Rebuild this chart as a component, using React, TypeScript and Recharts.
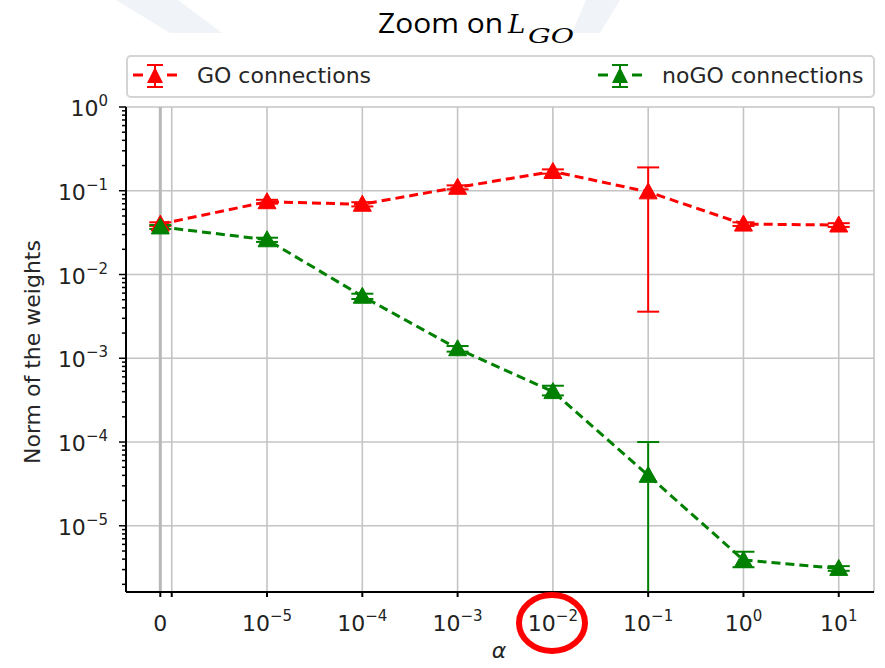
import React from 'react';
import { LineChart, Line, XAxis, YAxis, CartesianGrid, ErrorBar } from 'recharts';

// alpha values on the x axis (0 sits in the linear part of a symlog-like axis)
const alphas = [0, 1e-5, 1e-4, 1e-3, 1e-2, 1e-1, 1, 10];

const goMean = [0.04, 0.074, 0.069, 0.11, 0.17, 0.097, 0.04, 0.039];
const goErrLow = [0.002, 0.004, 0.004, 0.006, 0.01, 0.0934, 0.002, 0.002];
const goErrHigh = [0.002, 0.004, 0.004, 0.006, 0.01, 0.093, 0.002, 0.002];

const nogoMean = [0.037, 0.026, 0.0055, 0.0013, 0.0004, 0.00004, 0.0000039, 0.0000031];
// lower error at 1e-1 runs off the bottom of the axis
const nogoErrLow = [0.002, 0.0015, 0.0004, 0.0001, 0.00004, 0.00003838, 0.0000007, 0.0000002];
const nogoErrHigh = [0.002, 0.0015, 0.0004, 0.0001, 0.00007, 0.00006, 0.000001, 0.0000002];

const ZERO_POS = -6.12;
const X_DOMAIN: [number, number] = [-6.48, 1.37];
const Y_DOMAIN: [number, number] = [1.62e-6, 1];

const xTicks = [ZERO_POS, -6, -5, -4, -3, -2, -1, 0, 1];
const yMajor = [1, 1e-1, 1e-2, 1e-3, 1e-4, 1e-5];
const yMinor: number[] = [];
[-6, -5, -4, -3, -2, -1].forEach((d) => {
  for (let m = 2; m <= 9; m++) {
    const v = m * Math.pow(10, d);
    if (v >= Y_DOMAIN[0]) yMinor.push(v);
  }
});
const yTicks = [...yMajor, ...yMinor].sort((a, b) => a - b);

const data = alphas.map((a, i) => ({
  x: a === 0 ? ZERO_POS : Math.log10(a),
  go: goMean[i],
  goErr: [goErrLow[i], goErrHigh[i]],
  nogo: nogoMean[i],
  nogoErr: [nogoErrLow[i], nogoErrHigh[i]],
}));

const RED = '#ff0000';
const GREEN = '#008000';
const TICK_FONT = '"DejaVu Sans", sans-serif';

const sup = (e: number) => (e < 0 ? '\u2212' + Math.abs(e) : String(e));

// pixel position helpers for the grid generators (same mapping as the axes)
const OFFSET = { left: 126, top: 107, width: 748, height: 485 };
const gridY = (args: any) => {
  const o = args?.offset ?? OFFSET;
  const lo = Math.log10(Y_DOMAIN[0]);
  const hi = Math.log10(Y_DOMAIN[1]);
  return yMajor.map((v) => o.top + (o.height * (hi - Math.log10(v))) / (hi - lo));
};
const gridX0 = (args: any) => {
  const o = args?.offset ?? OFFSET;
  return [o.left + (o.width * (ZERO_POS - X_DOMAIN[0])) / (X_DOMAIN[1] - X_DOMAIN[0])];
};

const XTick = (props: any) => {
  const { x, y, payload } = props;
  const v = payload.value;
  if (v === -6) return <g />;
  if (v === ZERO_POS) {
    return (
      <text x={x} y={y + 32} textAnchor="middle" fontFamily={TICK_FONT} fontSize={22} fill="#222">
        0
      </text>
    );
  }
  return (
    <text x={x} y={y + 32} textAnchor="middle" fontFamily={TICK_FONT} fontSize={22} fill="#222">
      10
      <tspan dy={-10} fontSize={15}>
        {sup(v)}
      </tspan>
    </text>
  );
};

const YTick = (props: any) => {
  const { x, y, payload } = props;
  const v = payload.value;
  const lg = Math.log10(v);
  const e = Math.round(lg);
  const major = Math.abs(lg - e) < 1e-6;
  return (
    <g>
      <line x1={x - (major ? 7 : 4)} x2={x} y1={y} y2={y} stroke="#000" strokeWidth={1.5} />
      {major && (
        <text x={x - 18} y={y + 9} textAnchor="end" fontFamily={TICK_FONT} fontSize={22} fill="#222">
          10
          <tspan dy={-10} fontSize={15}>
            {sup(e)}
          </tspan>
        </text>
      )}
    </g>
  );
};

const triangle = (color: string) => (p: any) => {
  const { cx, cy, index } = p;
  if (cx == null || cy == null || isNaN(cy)) return <g key={`t-${color}-${index}`} />;
  return (
    <polygon
      key={`t-${color}-${index}`}
      points={`${cx},${cy - 9} ${cx - 9},${cy + 7} ${cx + 9},${cy + 7}`}
      fill={color}
      stroke={color}
      strokeWidth={1}
    />
  );
};

const LegendIcon = ({ x, color }: { x: number; color: string }) => (
  <g>
    <line x1={x - 22} x2={x - 12} y1={75} y2={75} stroke={color} strokeWidth={3} />
    <line x1={x + 12} x2={x + 22} y1={75} y2={75} stroke={color} strokeWidth={3} />
    <line x1={x} x2={x} y1={65} y2={87} stroke={color} strokeWidth={2} />
    <line x1={x - 8} x2={x + 8} y1={65} y2={65} stroke={color} strokeWidth={2} />
    <line x1={x - 8} x2={x + 8} y1={87} y2={87} stroke={color} strokeWidth={2} />
    <polygon points={`${x},${67} ${x - 8},${83} ${x + 8},${83}`} fill={color} />
  </g>
);

const App: React.FC = () => {
  return (
    <div style={{ position: 'absolute', left: 0, top: 0, width: 885, height: 668, background: '#fff', overflow: 'hidden' }}>
      <svg width={885} height={668} style={{ position: 'absolute', left: 0, top: 0 }}>
        <polygon points="116,0 178,0 222,33 170,33" fill="#f0f3f8" />
        <polygon points="586,0 620,0 600,33 572,33" fill="#f0f3f8" />
      </svg>
      <div style={{ position: 'absolute', left: 0, top: 0 }}>
        <LineChart width={885} height={668} data={data} margin={{ top: 107, right: 11, bottom: 0, left: 0 }}>
          <CartesianGrid stroke="#c4c4c4" strokeWidth={1.6} horizontalCoordinatesGenerator={gridY} />
          <CartesianGrid stroke="#b8b8b8" strokeWidth={3} horizontal={false} verticalCoordinatesGenerator={gridX0} />
          <XAxis
            type="number"
            dataKey="x"
            domain={X_DOMAIN}
            allowDataOverflow
            ticks={xTicks}
            interval={0}
            height={76}
            tickSize={5}
            tickMargin={2}
            axisLine={{ stroke: '#000', strokeWidth: 2 }}
            tickLine={{ stroke: '#000', strokeWidth: 2 }}
            tick={<XTick />}
          />
          <YAxis
            scale="log"
            domain={Y_DOMAIN}
            allowDataOverflow
            ticks={yTicks}
            interval={0}
            width={126}
            tickSize={0}
            tickMargin={0}
            tickLine={false}
            axisLine={{ stroke: '#000', strokeWidth: 2 }}
            tick={<YTick />}
          />
          <XAxis xAxisId="top" orientation="top" height={0} tick={false} tickLine={false} axisLine={{ stroke: '#000', strokeWidth: 2 }} />
          <YAxis yAxisId="right" orientation="right" width={0} tick={false} tickLine={false} axisLine={{ stroke: '#000', strokeWidth: 2 }} />
          <Line
            type="linear"
            dataKey="go"
            stroke={RED}
            strokeWidth={3}
            strokeDasharray="9 5"
            dot={triangle(RED)}
            activeDot={false}
            isAnimationActive={false}
          >
            <ErrorBar dataKey="goErr" direction="y" width={11} stroke={RED} strokeWidth={2} isAnimationActive={false} />
          </Line>
          <Line
            type="linear"
            dataKey="nogo"
            stroke={GREEN}
            strokeWidth={3}
            strokeDasharray="9 5"
            dot={triangle(GREEN)}
            activeDot={false}
            isAnimationActive={false}
          >
            <ErrorBar dataKey="nogoErr" direction="y" width={11} stroke={GREEN} strokeWidth={2} isAnimationActive={false} />
          </Line>
        </LineChart>
      </div>
      <svg width={885} height={668} style={{ position: 'absolute', left: 0, top: 0, pointerEvents: 'none' }}>
        <text x={378} y={33} fontFamily='"Open Sans", sans-serif' fontSize={27} fill="#000" textLength={125} lengthAdjust="spacingAndGlyphs">
          Zoom on
        </text>
        <text x={508} y={33} fontFamily='"DejaVu Serif", serif' fontStyle="italic" fontSize={26} fill="#000">
          L
        </text>
        <text x={528} y={43} fontFamily='"DejaVu Serif", serif' fontStyle="italic" fontSize={20} fill="#000" textLength={46} lengthAdjust="spacingAndGlyphs">
          GO
        </text>

        <rect x={127} y={56} width={747} height={41} rx={4} fill="#fff" fillOpacity={0.85} stroke="#d4d4d4" strokeWidth={2} />
        <LegendIcon x={155} color={RED} />
        <text x={197} y={83} fontFamily={TICK_FONT} fontSize={22} fill="#262626">
          GO connections
        </text>
        <LegendIcon x={620} color={GREEN} />
        <text x={662} y={83} fontFamily={TICK_FONT} fontSize={22} fill="#262626">
          noGO connections
        </text>

        <text x={40} y={352} transform="rotate(-90 40 352)" textAnchor="middle" fontFamily={TICK_FONT} fontSize={22} fill="#262626">
          Norm of the weights
        </text>
        <text x={499} y={658} textAnchor="middle" fontFamily={TICK_FONT} fontStyle="italic" fontSize={22} fill="#262626">
          α
        </text>

        <ellipse cx={552} cy={623} rx={33} ry={28} fill="none" stroke="#ff0000" strokeWidth={6} />
      </svg>
    </div>
  );
};

export default App;
